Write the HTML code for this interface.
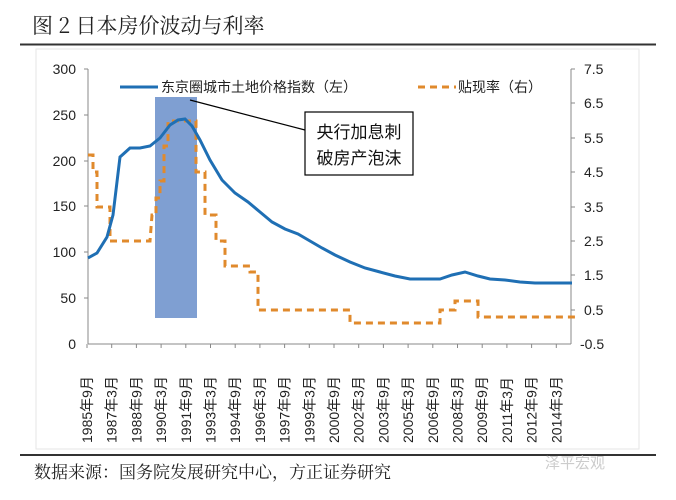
<!DOCTYPE html>
<html><head><meta charset="utf-8"><style>
body{margin:0;background:#fff;width:676px;height:495px;overflow:hidden;font-family:"Liberation Sans","Noto Sans CJK SC",sans-serif;}
</style></head><body>
<svg width="676" height="495" viewBox="0 0 676 495" xmlns="http://www.w3.org/2000/svg" font-family="Liberation Sans, Noto Sans CJK SC, sans-serif">
<text x="32" y="33" font-size="21" fill="#222" font-family="Noto Serif CJK SC, serif">图 2  日本房价波动与利率</text>
<line x1="20" y1="44.5" x2="656" y2="44.5" stroke="#333" stroke-width="2"/>
<rect x="36" y="49" width="603" height="400" fill="none" stroke="#e6e6e6"/>
<g stroke="#888" stroke-width="1" fill="none">
<line x1="88" y1="69" x2="88" y2="344"/>
<line x1="571" y1="69" x2="571" y2="344"/>
<line x1="88" y1="344" x2="571" y2="344"/>
</g>
<g font-size="14" fill="#222" text-anchor="end">
<text x="76" y="74">300</text><text x="76" y="120">250</text><text x="76" y="166">200</text><text x="76" y="211">150</text><text x="76" y="257">100</text><text x="76" y="303">50</text><text x="76" y="349">0</text>
</g>
<g font-size="14" fill="#222">
<text x="584" y="74">7.5</text><text x="584" y="108">6.5</text><text x="584" y="143">5.5</text><text x="584" y="177">4.5</text><text x="584" y="212">3.5</text><text x="584" y="246">2.5</text><text x="584" y="280">1.5</text><text x="584" y="315">0.5</text><text x="580" y="349">-0.5</text>
</g>
<g stroke="#888">
<line x1="84" y1="69" x2="88" y2="69"/><line x1="84" y1="115" x2="88" y2="115"/><line x1="84" y1="161" x2="88" y2="161"/><line x1="84" y1="206" x2="88" y2="206"/><line x1="84" y1="252" x2="88" y2="252"/><line x1="84" y1="298" x2="88" y2="298"/>
<line x1="571" y1="69" x2="575" y2="69"/><line x1="571" y1="103" x2="575" y2="103"/><line x1="571" y1="138" x2="575" y2="138"/><line x1="571" y1="172" x2="575" y2="172"/><line x1="571" y1="207" x2="575" y2="207"/><line x1="571" y1="241" x2="575" y2="241"/><line x1="571" y1="275" x2="575" y2="275"/><line x1="571" y1="310" x2="575" y2="310"/>
</g>
<g id="xt"></g>
<rect x="155" y="97" width="42" height="221" fill="#7f9fd2"/>
<polyline fill="none" stroke="#e08a2c" stroke-width="3" stroke-dasharray="7,5" points="88,155 93,155 93,172 97,172 97,207 110,207 110,241 150,241 152,215 156,215 156,198 160,198 160,181 164,181 164,146 168,146 168,121 196,121 196,172 205,172 205,215 216,215 216,241 225,241 225,266 250,266 250,272 258,272 258,310 350,310 350,323 440,323 440,310 455,310 455,301 478,301 478,317 575,317"/>
<polyline fill="none" stroke="#1f6fb4" stroke-width="3" points="88,258 97,253 107,237 113,215 120,157 130,148 140,148 150,146 160,138 170,125 178,120 185,119 192,126 200,140 210,160 222,180 235,193 248,202 260,212 272,222 285,229 298,234 310,241 322,248 335,255 350,262 365,268 380,272 395,276 410,279 425,279 440,279 452,275 465,272 478,276 490,279 505,280 520,282 535,283 550,283 572,283"/>
<line x1="120" y1="87" x2="158" y2="87" stroke="#1f6fb4" stroke-width="3"/>
<text x="161" y="92" font-size="14" fill="#222" font-family="Noto Sans CJK SC, sans-serif">东京圈城市土地价格指数（左）</text>
<line x1="418" y1="87" x2="456" y2="87" stroke="#e08a2c" stroke-width="3" stroke-dasharray="7,5"/>
<text x="458" y="92" font-size="14" fill="#222" font-family="Noto Sans CJK SC, sans-serif">贴现率（右）</text>
<line x1="190" y1="100" x2="305" y2="130" stroke="#000" stroke-width="1.2"/>
<rect x="305" y="112" width="108" height="63" fill="#fff" stroke="#000" stroke-width="1.2"/>
<text x="359" y="138" font-size="17" text-anchor="middle" fill="#111" font-family="Noto Sans CJK SC, sans-serif">央行加息刺</text>
<text x="359" y="164" font-size="17" text-anchor="middle" fill="#111" font-family="Noto Sans CJK SC, sans-serif">破房产泡沫</text>
<line x1="20" y1="455" x2="656" y2="455" stroke="#333" stroke-width="2"/>
<text x="34" y="478" font-size="17" fill="#222" font-family="Noto Serif CJK SC, serif">数据来源：国务院发展研究中心，方正证券研究</text>
<text x="545" y="468" font-size="15" fill="#ccc" font-family="Noto Sans CJK SC, sans-serif">泽平宏观</text>
<g font-size="14" fill="#222" id="lbls"></g>
</svg>
<script>
var labels=["1985年9月","1987年3月","1988年9月","1990年3月","1991年9月","1993年3月","1994年9月","1996年3月","1997年9月","1999年3月","2000年9月","2002年3月","2003年9月","2005年3月","2006年9月","2008年3月","2009年9月","2011年3月","2012年9月","2014年3月"];
var g=document.getElementById('lbls'),t=document.getElementById('xt'),ns="http://www.w3.org/2000/svg";
for(var i=0;i<20;i++){var x=87+i*24.7;
var l=document.createElementNS(ns,'line');l.setAttribute('x1',x);l.setAttribute('x2',x);l.setAttribute('y1',344);l.setAttribute('y2',348);l.setAttribute('stroke','#888');t.appendChild(l);
var e=document.createElementNS(ns,'text');e.setAttribute('transform','translate('+(x+5)+',443) rotate(-90)');e.textContent=labels[i];e.setAttribute('font-family','Liberation Sans, Noto Sans CJK SC, sans-serif');g.appendChild(e);}
</script>
</body></html>
